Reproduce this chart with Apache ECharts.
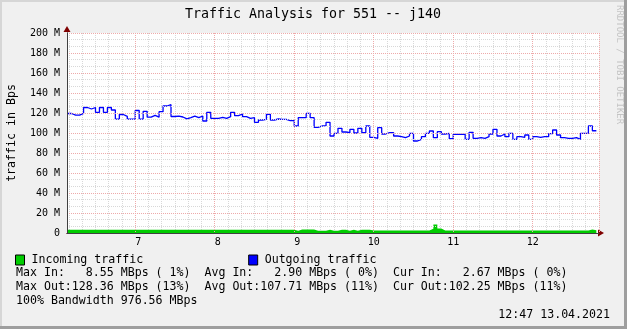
<!DOCTYPE html>
<html><head><meta charset="utf-8">
<script src="https://cdn.jsdelivr.net/npm/echarts@6/dist/echarts.min.js"></script>
<style>
html,body{margin:0;padding:0;background:#f0f0f0;}
#wrap{position:relative;width:627px;height:329px;overflow:hidden;}
#chart{position:absolute;left:0;top:0;width:627px;height:329px;}
.b{position:absolute;}
</style></head><body>
<div id="wrap"><div id="chart"></div>
<div class="b" style="left:0;top:0;width:627px;height:2px;background:#d6d6d6"></div>
<div class="b" style="left:0;top:0;width:2px;height:329px;background:#d6d6d6"></div>
<div class="b" style="left:0;top:326px;width:627px;height:3px;background:#9e9e9e"></div>
<div class="b" style="left:624px;top:0;width:3px;height:329px;background:#9e9e9e"></div>
</div>
<script>
// ---- data ----
const titleText = 'Traffic Analysis for 551 -- j140';
const yAxisTitle = 'traffic in Bps';
const watermark = 'RRDTOOL / TOBI OETIKER';
const seriesNames = ['Incoming traffic', 'Outgoing traffic'];
const slotStart = [6, 9];      // first 3-minute slot (hh, mm) on 13.04.2021
const slotMinutes = 3;
const incoming = [
 3.2,3.2,3.2,3.2,3.2,3.2,3.2,3.2,3.2,3.2,
 3.2,3.2,3.2,3.2,3.2,3.2,3.2,3.2,3.2,3.2,
 3.2,3.2,3.2,3.2,3.2,3.2,3.2,3.2,3.2,3.2,
 3.2,3.2,3.2,3.2,3.2,3.2,3.2,3.2,3.2,3.2,
 3.2,3.2,3.2,3.2,3.2,3.2,3.2,3.2,3.2,3.2,
 3.2,3.2,3.2,3.2,3.2,3.2,3.2,2.3,3.6,3.6,
 3.6,3.6,2.3,2.3,2.3,3.3,2.3,2.3,3.3,3.3,
 2.3,3.3,2.3,3.3,3.3,3.3,2.5,2.5,2.5,2.5,
 2.5,2.5,2.5,2.5,2.5,2.5,2.5,2.5,2.5,2.5,
 2.5,4.3,8.55,4.5,2.5,2.5,2.5,2.5,2.5,2.5,
 2.5,2.5,2.5,2.5,2.5,2.5,2.5,2.5,2.5,2.5,
 2.5,2.5,2.5,2.5,2.5,2.5,2.5,2.5,2.5,2.5,
 2.5,2.5,2.5,2.5,2.5,2.5,2.5,2.5,2.5,2.5,
 2.5,3.5,2.67
];
const outgoing = [
 119.5,117.8,117.8,119.7,125.5,124,125.5,120.7,125.5,120.7,
 125.5,123,113.8,118.5,116.7,113.8,113.8,122.5,113.8,121.7,
 115.8,117.7,115.8,121.3,127,128.36,116.5,116.8,116,114.2,
 115.3,116.8,115.3,117,112,120.7,114.7,114.7,115.7,114.7,
 116.3,120.7,117.3,119,116.3,114.7,115.3,110.7,113,113.7,
 118.7,113,114,113.7,113.7,112.3,112.3,107,115.3,115.3,
 119.7,115.3,105.7,107,107.3,110.7,97,99.7,104.7,101,
 100.3,103.7,100,104.7,100.3,107,95.7,94.7,105.3,99,
 100.3,100.3,97,96.3,95.3,97,99.7,92,93.7,96.3,
 99.7,102,95.3,101.3,99,99.7,94.3,98.7,98.7,98.7,
 93.7,100.7,94.7,95.3,94.7,96.3,99,103.7,97,99,
 96.3,99.7,93.7,96.3,95.7,98,93.7,96.3,95.7,96.3,
 96.3,99.3,103,98,95.3,94.7,94.7,95.3,93.7,99.7,
 99.7,107,102.25
];
const yTicks = [0,20,40,60,80,100,120,140,160,180,200];
const statLines = [
 'Max In:   8.55 MBps ( 1%)  Avg In:   2.90 MBps ( 0%)  Cur In:   2.67 MBps ( 0%)',
 'Max Out:128.36 MBps (13%)  Avg Out:107.71 MBps (11%)  Cur Out:102.25 MBps (11%)',
 '100% Bandwidth 976.56 MBps'
];
const stampText = '12:47 13.04.2021';

// ---- build ----
const slotTime = i => new Date(2021, 3, 13, slotStart[0], slotStart[1] + slotMinutes * i).getTime();
function stepData(vals) {
  const d = vals.map((v, i) => [slotTime(i), v]);
  d.push([slotTime(vals.length), vals[vals.length - 1]]);
  return d;
}
const tMin = new Date(2021, 3, 13, 6, 8, 30).getTime();
const tMax = new Date(2021, 3, 13, 12, 50, 0).getTime();
const MONO = '"DejaVu Sans Mono", monospace';
const MAJOR = '#eeaaaa', MINOR = '#d8d8d8', AXIS = '#404040', ARROW = '#7f0000';

const chart = echarts.init(document.getElementById('chart'), null, {renderer: 'canvas'});
chart.setOption({
  animation: false,
  backgroundColor: '#f0f0f0',
  textStyle: {fontFamily: MONO},
  grid: {left: 67, top: 33, width: 532, height: 200, show: true, backgroundColor: '#ffffff', borderWidth: 0},
  legend: {
    data: seriesNames, left: 15, top: 254, padding: 0, icon: 'rect', itemWidth: 9, itemHeight: 10, itemGap: 105,
    itemStyle: {borderColor: '#000', borderWidth: 1},
    textStyle: {fontFamily: MONO, fontSize: 11.6, color: '#000', padding: [0, 0, 0, 2]}
  },
  xAxis: [
    {type: 'time', position: 'bottom', min: tMin, max: tMax, z: 5,
     axisLine: {show: true, onZero: false, lineStyle: {color: ARROW, width: 1}, symbol: ['none', 'triangle'], symbolSize: [7, 6], symbolOffset: [0, 2]},
     axisTick: {show: false}, axisLabel: {show: false}, splitLine: {show: false}},
    {type: 'time', position: 'bottom', min: tMin, max: tMax, minInterval: 900000, maxInterval: 900000,
     axisLine: {show: false}, axisTick: {show: false}, axisLabel: {show: false},
     splitLine: {show: true, lineStyle: {color: MINOR, type: [1, 1], width: 1}}},
    {type: 'time', position: 'bottom', min: tMin, max: tMax, minInterval: 3600000, maxInterval: 3600000, z: 6,
     axisLine: {show: true, onZero: false, lineStyle: {color: AXIS, width: 1}},
     axisTick: {show: false},
     axisLabel: {fontFamily: MONO, fontSize: 10, color: '#000', margin: 4, showMinLabel: false, showMaxLabel: false,
       formatter: v => String(new Date(v).getHours()).padStart(2, ' ')},
     splitLine: {show: true, lineStyle: {color: MAJOR, type: [1, 1], width: 1}}}
  ],
  yAxis: [
    {type: 'value', position: 'left', min: 0, max: 200, z: 5,
     axisLine: {show: true, onZero: false, lineStyle: {color: ARROW, width: 1}, symbol: ['none', 'triangle'], symbolSize: [7, 6], symbolOffset: [0, 4]},
     axisTick: {show: false}, axisLabel: {show: false}, splitLine: {show: false}},
    {type: 'value', position: 'left', min: yTicks[0], max: yTicks[yTicks.length - 1], interval: yTicks[1] - yTicks[0], z: 6,
     axisLine: {show: true, onZero: false, lineStyle: {color: AXIS, width: 1}},
     axisTick: {show: false},
     axisLabel: {fontFamily: MONO, fontSize: 10, color: '#000', margin: 7, formatter: v => v === 0 ? '0' : v + ' M'},
     splitLine: {show: true, lineStyle: {color: MAJOR, type: [1, 1], width: 1}},
     minorTick: {show: false, splitNumber: 3},
     minorSplitLine: {show: true, lineStyle: {color: MINOR, type: [1, 1], width: 1}}}
  ],
  series: [
    {name: seriesNames[0], type: 'line', step: 'end', xAxisIndex: 2, yAxisIndex: 1, showSymbol: false, symbol: 'none',
     color: '#00cc00', lineStyle: {width: 0, color: '#00cc00'}, areaStyle: {color: '#00cc00', opacity: 1},
     data: stepData(incoming), z: 2},
    {name: seriesNames[1], type: 'line', step: 'end', xAxisIndex: 2, yAxisIndex: 1, showSymbol: false, symbol: 'none',
     color: '#0000ff', lineStyle: {width: 1.3, color: '#0000ff'},
     data: stepData(outgoing), z: 3}
  ],
  graphic: [
    {type: 'text', x: 313, y: 15, style: {text: titleText, font: '13.3px ' + MONO, fill: '#000', align: 'center', verticalAlign: 'middle'}},
    {type: 'text', x: 12, y: 133, rotation: Math.PI / 2, style: {text: yAxisTitle, font: '11.6px ' + MONO, fill: '#000', align: 'center', verticalAlign: 'middle'}},
    {type: 'text', x: 619, y: 5, rotation: -Math.PI / 2, style: {text: watermark, font: '9px ' + MONO, fill: '#c4c4c4', align: 'left', verticalAlign: 'middle'}},
    {type: 'text', x: 16, y: 273, style: {text: statLines[0], font: '11.6px ' + MONO, fill: '#000', align: 'left', verticalAlign: 'middle'}},
    {type: 'text', x: 16, y: 287, style: {text: statLines[1], font: '11.6px ' + MONO, fill: '#000', align: 'left', verticalAlign: 'middle'}},
    {type: 'text', x: 16, y: 301, style: {text: statLines[2], font: '11.6px ' + MONO, fill: '#000', align: 'left', verticalAlign: 'middle'}},
    {type: 'text', x: 610, y: 315, style: {text: stampText, font: '11.6px ' + MONO, fill: '#000', align: 'right', verticalAlign: 'middle'}}
  ]
});
</script>
</body></html>
